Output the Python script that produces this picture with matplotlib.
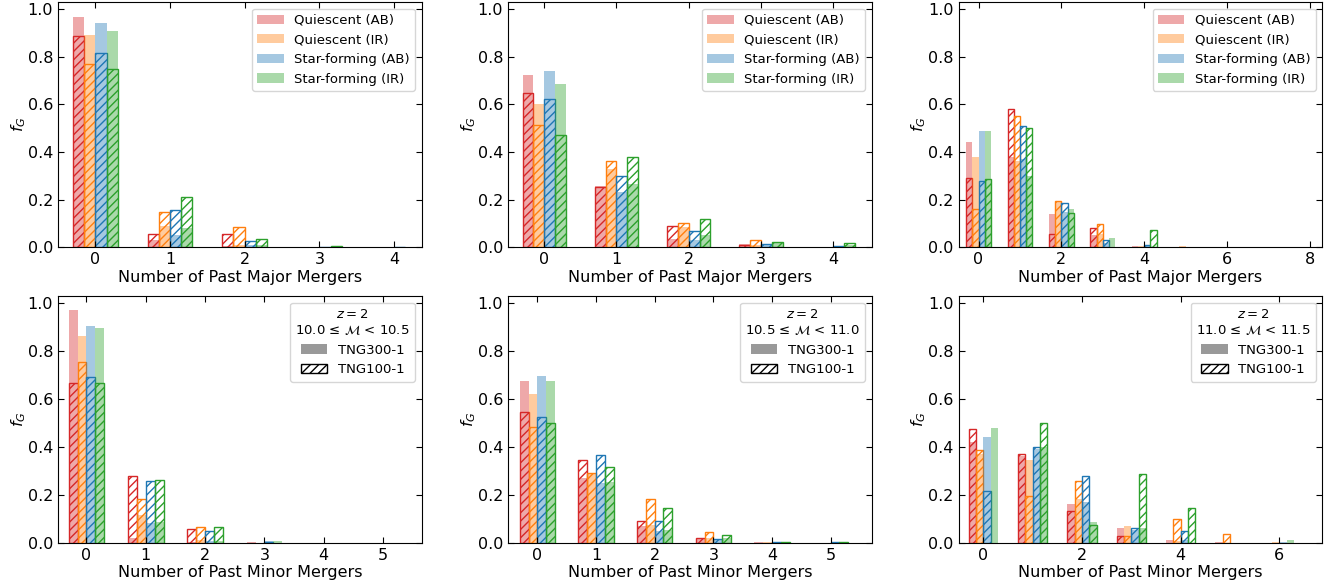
import numpy as np
import matplotlib.pyplot as plt
from matplotlib.patches import Patch

# fraction of galaxies f_G vs. number of past mergers, z = 2
# rows in each list: Quiescent (AB), Quiescent (IR), Star-forming (AB), Star-forming (IR)
colors = ['tab:red', 'tab:orange', 'tab:blue', 'tab:green']
labels = ['Quiescent (AB)', 'Quiescent (IR)', 'Star-forming (AB)', 'Star-forming (IR)']
mass_edges = ['10.0', '10.5', '11.0', '11.5']

# major mergers, 10.0 <= M < 10.5
major_lo_300 = [[0.969, 0.031, 0.005, 0.0, 0.0],
                [0.892, 0.090, 0.010, 0.0, 0.0],
                [0.942, 0.053, 0.010, 0.003, 0.003],
                [0.909, 0.082, 0.010, 0.005, 0.0]]
major_lo_100 = [[0.888, 0.057, 0.056, 0.0, 0.0],
                [0.771, 0.148, 0.084, 0.0, 0.0],
                [0.816, 0.155, 0.025, 0.003, 0.003],
                [0.749, 0.211, 0.034, 0.004, 0.0]]

# major mergers, 10.5 <= M < 11.0
major_mid_300 = [[0.723, 0.257, 0.036, 0.012, 0.002],
                 [0.601, 0.330, 0.085, 0.010, 0.002],
                 [0.741, 0.231, 0.030, 0.010, 0.002],
                 [0.685, 0.265, 0.050, 0.020, 0.010]]
major_mid_100 = [[0.647, 0.252, 0.091, 0.010, 0.0],
                 [0.514, 0.361, 0.101, 0.031, 0.0],
                 [0.623, 0.298, 0.067, 0.012, 0.006],
                 [0.472, 0.379, 0.120, 0.021, 0.017]]

# major mergers, 11.0 <= M < 11.5
major_hi_300 = [[0.441, 0.380, 0.139, 0.050, 0.006, 0.0, 0.0, 0.0, 0.003],
                [0.381, 0.363, 0.190, 0.055, 0.007, 0.004, 0.003, 0.0, 0.0],
                [0.490, 0.370, 0.150, 0.020, 0.010, 0.002, 0.0, 0.0, 0.0],
                [0.489, 0.300, 0.161, 0.039, 0.0, 0.0, 0.0, 0.0, 0.0]]
major_hi_100 = [[0.290, 0.580, 0.055, 0.080, 0.0, 0.0, 0.0, 0.0, 0.0],
                [0.162, 0.550, 0.195, 0.098, 0.0, 0.0, 0.0, 0.0, 0.0],
                [0.277, 0.508, 0.185, 0.032, 0.008, 0.0, 0.0, 0.0, 0.0],
                [0.286, 0.501, 0.143, 0.0, 0.073, 0.0, 0.0, 0.0, 0.0]]

# minor mergers, 10.0 <= M < 10.5
minor_lo_300 = [[0.973, 0.020, 0.004, 0.002, 0.0, 0.0],
                [0.863, 0.116, 0.010, 0.0, 0.0, 0.0],
                [0.906, 0.081, 0.005, 0.006, 0.0, 0.0],
                [0.898, 0.088, 0.005, 0.006, 0.0, 0.0]]
minor_lo_100 = [[0.666, 0.278, 0.057, 0.0, 0.0, 0.0],
                [0.754, 0.182, 0.067, 0.0, 0.0, 0.0],
                [0.690, 0.257, 0.050, 0.003, 0.0, 0.0],
                [0.666, 0.262, 0.064, 0.0, 0.0, 0.0]]

# minor mergers, 10.5 <= M < 11.0
minor_mid_300 = [[0.674, 0.270, 0.070, 0.015, 0.002, 0.0],
                 [0.622, 0.285, 0.074, 0.020, 0.002, 0.0],
                 [0.694, 0.249, 0.050, 0.010, 0.0, 0.0],
                 [0.673, 0.252, 0.053, 0.020, 0.0, 0.0]]
minor_mid_100 = [[0.545, 0.344, 0.092, 0.021, 0.0, 0.0],
                 [0.485, 0.291, 0.182, 0.046, 0.0, 0.0],
                 [0.526, 0.367, 0.091, 0.015, 0.003, 0.003],
                 [0.501, 0.315, 0.144, 0.031, 0.004, 0.004]]

# minor mergers, 11.0 <= M < 11.5
minor_hi_300 = [[0.420, 0.360, 0.161, 0.063, 0.011, 0.004, 0.0],
                [0.370, 0.344, 0.183, 0.071, 0.005, 0.0, 0.004],
                [0.443, 0.390, 0.170, 0.055, 0.010, 0.0, 0.004],
                [0.477, 0.400, 0.088, 0.060, 0.0, 0.0, 0.010]]
minor_hi_100 = [[0.476, 0.369, 0.132, 0.027, 0.0, 0.0, 0.0],
                [0.388, 0.195, 0.259, 0.030, 0.098, 0.035, 0.0],
                [0.216, 0.401, 0.280, 0.063, 0.049, 0.0, 0.0],
                [0.0, 0.501, 0.073, 0.288, 0.144, 0.0, 0.0]]

panels = [(major_lo_300, major_lo_100), (major_mid_300, major_mid_100), (major_hi_300, major_hi_100),
          (minor_lo_300, minor_lo_100), (minor_mid_300, minor_mid_100), (minor_hi_300, minor_hi_100)]
xlims = [(-0.5, 4.37), (-0.5, 4.53), (-0.48, 8.3), (-0.48, 5.65), (-0.5, 5.7), (-0.5, 6.87)]
xticks = [range(5), range(5), range(0, 9, 2), range(6), range(6), range(0, 7, 2)]

width = 0.15
offsets = (np.arange(4) - 1.5) * width
lefts = [0.0436, 0.382, 0.7208]
bottoms = [0.578, 0.0739]
heights = [0.4186, 0.421]

fig = plt.figure(figsize=(13.3, 5.86), dpi=100)

for k, (d300, d100) in enumerate(panels):
    row, col = divmod(k, 3)
    ax = fig.add_axes([lefts[col], bottoms[row], 0.2734, heights[row]])
    for i in range(4):
        y300 = np.array(d300[i])
        y100 = np.array(d100[i])
        x = np.arange(len(y300)) + offsets[i]
        m = y300 > 0
        ax.bar(x[m], y300[m], width, color=colors[i], alpha=0.4, linewidth=0)
        m = y100 > 0
        ax.bar(x[m], y100[m], width, fill=False, edgecolor=colors[i], hatch='////', linewidth=1.0)

    ax.set_xlim(*xlims[k])
    ax.set_ylim(0, 1.03)
    ax.set_xticks(list(xticks[k]))
    ax.set_yticks(np.arange(0, 1.01, 0.2))
    ax.tick_params(direction='in', top=True, right=True, labelsize=11.5, length=4)
    ax.set_ylabel('$f_G$', fontsize=11.5, labelpad=0)
    kind = 'Major' if row == 0 else 'Minor'
    ax.set_xlabel(f'Number of Past {kind} Mergers', fontsize=11.5, labelpad=2)

    if row == 0:
        handles = [Patch(facecolor=c, alpha=0.4, edgecolor='none') for c in colors]
        ax.legend(handles, labels, loc='upper right', fontsize=9.5)
    else:
        handles = [Patch(facecolor='k', alpha=0.4, edgecolor='none'),
                   Patch(fill=False, edgecolor='k', hatch='////')]
        title = f'$z = 2$\n{mass_edges[col]} ≤ $\\mathcal{{M}}$ < {mass_edges[col + 1]}'
        leg = ax.legend(handles, ['TNG300-1', 'TNG100-1'], loc='upper right', fontsize=9.5,
                        title=title, title_fontsize=9.5)
        leg.get_title().set_multialignment('center')

plt.savefig('out.png', dpi=100)
